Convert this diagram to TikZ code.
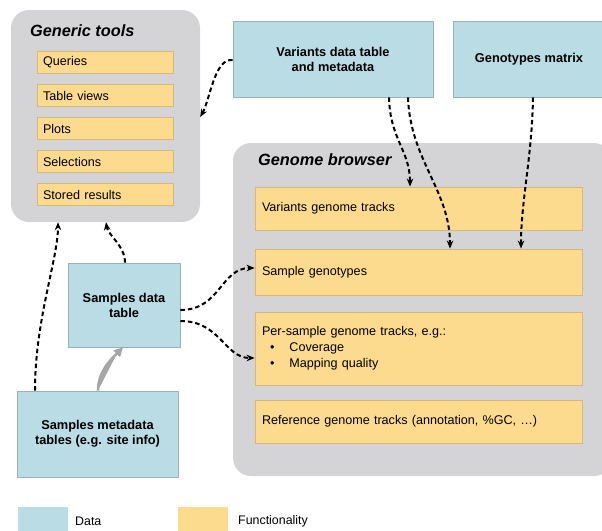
\documentclass[tikz,border=0pt]{standalone}
\usepackage{fontspec}
\setmainfont{Liberation Sans}
\usetikzlibrary{arrows.meta}
\definecolor{datafill}{RGB}{186,220,228}
\definecolor{dataline}{RGB}{150,178,186}
\definecolor{funcfill}{RGB}{252,218,142}
\definecolor{funcline}{RGB}{214,184,120}
\definecolor{groupfill}{RGB}{212,212,215}
\tikzset{
	group/.style={fill=groupfill,rounded corners=18pt,inner sep=0pt},
	databox/.style={draw=dataline,fill=datafill,line width=0.8pt,inner sep=0pt,align=center,font=\bfseries\fontsize{12.8}{15}\selectfont},
	funcbox/.style={draw=funcline,fill=funcfill,line width=0.8pt,inner sep=0pt,font=\fontsize{12.6}{16}\selectfont},
	grouptitle/.style={anchor=base west,inner sep=0pt,font=\bfseries\itshape\fontsize{16.3}{18}\selectfont},
	flow/.style={-{Stealth[length=8pt,width=6.5pt]},line width=2pt,dash pattern=on 4.5pt off 3pt},
}
\begin{document}
\begin{tikzpicture}[x=1pt,y=-1pt,line join=round]
	\useasboundingbox (0,0) rectangle (602,530);
	% containers
	\node[group,minimum width=189pt,minimum height=212pt] (tools) at (105.5,116) {};
	\node[group,minimum width=379pt,minimum height=333pt] (browser) at (422.5,309.5) {};
	\node[grouptitle] (toolstitle) at (30,36) {Generic tools};
	\node[grouptitle] (browsertitle) at (258,165) {Genome browser};
	% generic tools entries
	\foreach \name/\yc/\lab in {
		queries/62.5/Queries,
		views/95.5/Table views,
		plots/128.5/Plots,
		sel/161.5/Selections,
		stored/194.5/Stored results
	}{
		\node[funcbox,minimum width=136pt,minimum height=22pt,text width=124pt,align=left] (\name) at (105,\yc) {\lab};
	}
	% genome browser tracks
	\node[funcbox,minimum width=327pt,minimum height=43pt,text width=313pt,align=left] (vtracks) at (418.5,208.5) {Variants genome tracks};
	\node[funcbox,minimum width=327pt,minimum height=46pt,text width=313pt,align=left] (sgeno) at (418.5,272) {Sample genotypes};
	\node[funcbox,minimum width=327pt,minimum height=73pt,text width=313pt,align=left] (pstracks) at (418.5,348.5) {Per-sample genome tracks, e.g.:\\
		\hspace*{8pt}\textbullet\hspace{15pt}Coverage\\
		\hspace*{8pt}\textbullet\hspace{15pt}Mapping quality};
	\node[funcbox,minimum width=327pt,minimum height=43pt,text width=313pt,align=left] (rtracks) at (418.5,421.5) {Reference genome tracks (annotation, \%GC, \dots)};
	% data
	\node[databox,minimum width=200pt,minimum height=76pt] (vars) at (333,59) {Variants data table\\and metadata};
	\node[databox,minimum width=152pt,minimum height=76pt] (geno) at (529,59) {Genotypes matrix};
	\node[databox,minimum width=112pt,minimum height=84pt] (sdata) at (124,305) {Samples data\\table};
	\node[databox,minimum width=161pt,minimum height=86pt] (smeta) at (97.5,434) {Samples metadata\\tables (e.g. site info)};
	% connectors
	\draw[flow] ([yshift=-1pt]vars.west) .. controls +(-18,-2) and +(10,-18) .. ([yshift=-1pt]tools.east);
	\draw[flow] ([xshift=56pt]vars.south) .. controls +(1,42) and +(0,-36) .. ([xshift=-8.5pt]vtracks.north);
	\draw[flow] ([xshift=75pt]vars.south) .. controls +(2,62) and +(0,-58) .. ([xshift=31.5pt]sgeno.north);
	\draw[flow] ([xshift=4pt]geno.south) .. controls +(-1,60) and +(0,-48) .. ([xshift=102.5pt]sgeno.north);
	\draw[flow] ([yshift=-5pt]sdata.east) .. controls +(40,0) and +(-34,0) .. ([yshift=4pt]sgeno.west);
	\draw[flow] ([yshift=-16pt]sdata.east) .. controls +(40,0) and +(-30,0) .. ([yshift=-9.5pt]pstracks.west);
	\draw[flow] ([xshift=1pt]sdata.north) .. controls +(0,-17) and +(2,13) .. ([xshift=0.5pt]tools.south);
	\draw[flow] ([xshift=-62.5pt]smeta.north) .. controls +(0,-71) and +(0,37) .. ([xshift=-47.5pt]tools.south);
	\draw[-{Triangle[length=9pt,width=9pt]},line width=2.6pt,draw=gray!70,fill=gray!70] ([xshift=0.5pt]smeta.north) .. controls +(0,-20) and +(-10,10) .. ([xshift=-1pt]sdata.south);
	% legend
	\node[fill=datafill,minimum width=50pt,minimum height=26pt,inner sep=0pt] (datakey) at (43,520) {};
	\node[fill=funcfill,minimum width=50pt,minimum height=26pt,inner sep=0pt] (funckey) at (203,520) {};
	\node[anchor=west,inner sep=0pt,font=\fontsize{12.4}{14}\selectfont] (datalab) at (75,521) {Data};
	\node[anchor=west,inner sep=0pt,font=\fontsize{12.4}{14}\selectfont] (funclab) at (238,521) {Functionality};
\end{tikzpicture}
\end{document}
